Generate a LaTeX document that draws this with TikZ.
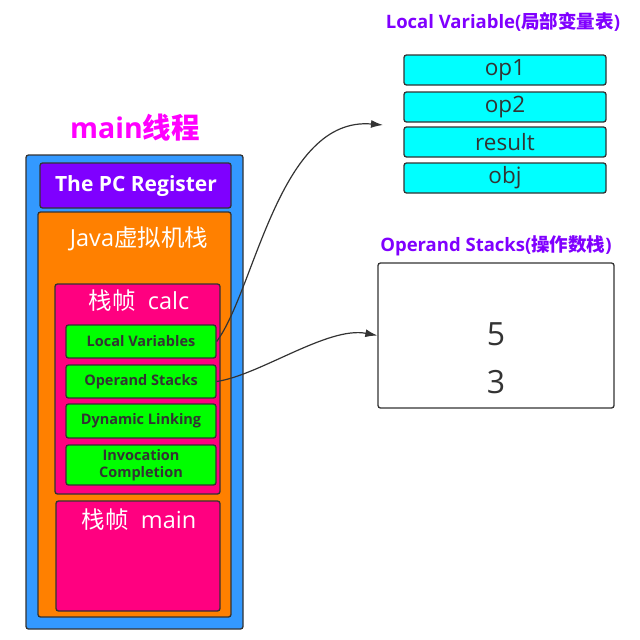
\documentclass[tikz,border=0pt]{standalone}
\usepackage{fontspec}
\usetikzlibrary{arrows.meta}
\setmainfont{Open Sans}
\newfontfamily\cjk{Noto Sans CJK SC}
\begin{document}
\begin{tikzpicture}[x=1pt,y=-1pt,
  box/.style={draw=black!80,line width=1.3pt,rounded corners=2.5pt},
  greenbox/.style={box,fill=green,text=black!80,font=\fontsize{14.5}{17}\selectfont\bfseries,align=center,inner sep=0pt,minimum width=150pt},
  cyanbox/.style={box,fill=cyanfill,text=black!80,font=\fontsize{22.5}{23}\selectfont,minimum width=202pt,minimum height=30pt,inner sep=0pt},
  title/.style={text=titlepurple,font=\fontsize{18.5}{19}\selectfont\bfseries},
  whitetext/.style={text=white,font=\fontsize{23.5}{24}\selectfont},
  conn/.style={draw=black!80,line width=1.2pt,-{Latex[length=12pt,width=8pt]}}]
\useasboundingbox (0,0) rectangle (640,640);
\definecolor{outerblue}{HTML}{3399FF}
\definecolor{pcpurple}{HTML}{7F00FF}
\definecolor{jvmorange}{HTML}{FF8000}
\definecolor{framepink}{HTML}{FF0080}
\definecolor{titlepurple}{HTML}{8000FF}
\definecolor{mtmagenta}{HTML}{FF00FF}
\definecolor{cyanfill}{HTML}{00FFFF}
% main thread
\node[text=mtmagenta,font=\fontsize{28.5}{29}\selectfont\bfseries] (mt) at (135,128) {main{\cjk 线程}};
\path[box,fill=outerblue] (26,155) rectangle (243,629);
\path[box,fill=pcpurple] (40,163) rectangle (231,208);
\node[text=white,font=\fontsize{21}{22}\selectfont\bfseries] (pc) at (136,186) {The PC Register};
\path[box,fill=jvmorange] (38,212) rectangle (231,617);
\node[whitetext] (jvm) at (139,239) {Java{\cjk 虚拟机栈}};
\path[box,fill=framepink] (55,284) rectangle (220,494);
\node[whitetext] (calc) at (139,301) {{\cjk 栈帧}\ \ calc};
\node[greenbox,minimum height=33pt] (lv) at (141,341.5) {Local Variables};
\node[greenbox,minimum height=33pt] (os) at (141,381.5) {Operand Stacks};
\node[greenbox,minimum height=34pt] (dl) at (141,421) {Dynamic Linking};
\node[greenbox,minimum height=40pt] (ic) at (141,465) {Invocation\\Completion};
\path[box,fill=framepink] (56,501) rectangle (220,611);
\node[whitetext] (fmain) at (139,520) {{\cjk 栈帧}\ \ main};
% local variable table
\node[title] (lvt) at (503,22) {Local Variable({\cjk 局部变量表})};
\node[cyanbox] (op1) at (505,70) {op1};
\node[cyanbox] (op2) at (505,107) {op2};
\node[cyanbox] (res) at (505,142) {result};
\node[cyanbox] (obj) at (505,178) {obj};
\coordinate (lvend) at (383,125);
% operand stack
\node[title] (ost) at (496,246) {Operand Stacks({\cjk 操作数栈})};
\node[box,fill=white,minimum width=236pt,minimum height=145pt,inner sep=0pt] (stk) at (496,335.5) {};
\node[text=black!80,font=\fontsize{32}{33}\selectfont] (five) at (496,334) {5};
\node[text=black!80,font=\fontsize{32}{33}\selectfont] (three) at (496,382) {3};
% connectors
\draw[conn] (lv.east) .. controls (255,290) and (279,116) .. (lvend);
\draw[conn] (os.east) .. controls (260,375) and (328,326) .. (stk.west);
\end{tikzpicture}
\end{document}
